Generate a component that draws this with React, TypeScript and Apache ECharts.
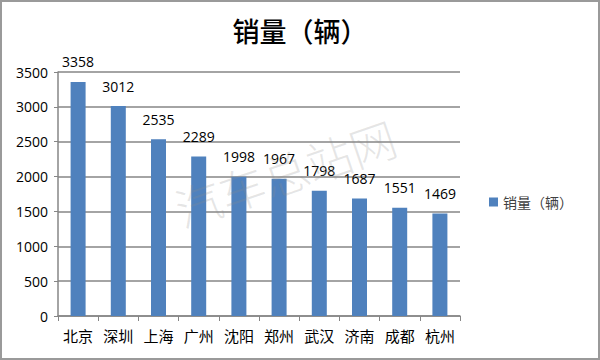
import React, { useEffect, useRef } from "react";
import * as echarts from "echarts";

const categories = ["北京", "深圳", "上海", "广州", "沈阳", "郑州", "武汉", "济南", "成都", "杭州"];
const sales = [3358, 3012, 2535, 2289, 1998, 1967, 1798, 1687, 1551, 1469];
const seriesName = "销量（辆）";
const titleText = "销量（辆）";
const watermark = "汽车总站网";

export default function App() {
  const ref = useRef<HTMLDivElement>(null);
  useEffect(() => {
    document.body.style.margin = "0";
    const chart = echarts.init(ref.current!, null, { renderer: "svg" });
    const numFont = "'Open Sans', 'Liberation Sans', sans-serif";
    const cjkFont = "'Noto Sans CJK SC', sans-serif";
    chart.setOption({
      animation: false,
      backgroundColor: "#ffffff",
      title: {
        text: titleText,
        left: 295,
        textAlign: "center",
        top: 12,
        textStyle: { fontFamily: cjkFont, fontSize: 27, fontWeight: 500, color: "#000" },
      },
      legend: {
        left: 484,
        top: 190,
        orient: "vertical",
        itemWidth: 9,
        itemHeight: 9,
        itemGap: 6,
        icon: "rect",
        data: [seriesName],
        textStyle: { fontFamily: cjkFont, fontSize: 14, color: "#404040" },
      },
      grid: { left: 58, right: 140, top: 72, bottom: 44, containLabel: false },
      xAxis: {
        type: "category",
        data: categories,
        axisLine: { lineStyle: { color: "#868686", width: 1.5 } },
        axisTick: { show: true, length: 5, lineStyle: { color: "#868686" } },
        axisLabel: { fontFamily: cjkFont, fontSize: 15, color: "#000", margin: 12, interval: 0 },
      },
      yAxis: {
        type: "value",
        min: 0,
        max: 3500,
        interval: 500,
        axisLine: { show: true, lineStyle: { color: "#868686", width: 1.5 } },
        axisTick: { show: true, length: 4, lineStyle: { color: "#868686" } },
        splitLine: { lineStyle: { color: "#868686", width: 1.5 } },
        axisLabel: {
          fontFamily: numFont,
          fontSize: 14,
          color: "#000",
          margin: 10,
          formatter: (v: number) => String(v),
        },
      },
      series: [
        {
          name: seriesName,
          type: "bar",
          data: sales,
          barWidth: 15,
          itemStyle: { color: "#4F81BD" },
          label: {
            show: true,
            position: "top",
            distance: 13,
            fontFamily: numFont,
            fontSize: 14,
            color: "#000",
          },
        },
      ],
      graphic: [
        {
          type: "text",
          x: 285,
          y: 172,
          rotation: 0.33,
          z: 100,
          style: {
            text: watermark,
            fontFamily: cjkFont,
            fontSize: 46,
            fontWeight: 200,
            fill: "rgba(140,140,140,0.22)",
            align: "center",
            verticalAlign: "middle",
          },
        },
        {
          type: "rect",
          shape: { x: 1, y: 1, width: 598, height: 358 },
          style: { fill: "none", stroke: "#9a9a9a", lineWidth: 2 },
          z: 100,
        },
      ],
    });
    return () => chart.dispose();
  }, []);
  return <div ref={ref} style={{ width: 600, height: 360, position: "absolute", left: 0, top: 0 }} />;
}
